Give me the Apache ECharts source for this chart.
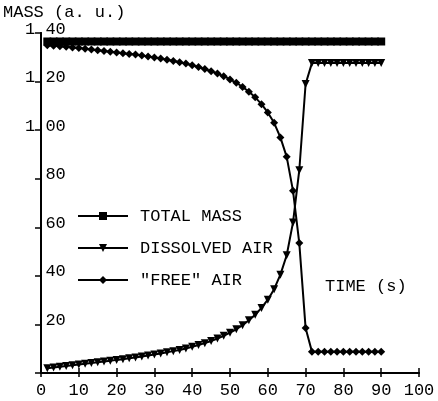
<!DOCTYPE html>
<html>
<head>
<meta charset="utf-8">
<script src="https://cdn.jsdelivr.net/npm/echarts@6/dist/echarts.min.js"></script>
<style>
  html, body { margin: 0; padding: 0; background: #fff; }
  #chart { width: 438px; height: 401px; }
</style>
</head>
<body>
<div id="chart"></div>
<script>
// time (s) of each sample
const times = [1.67, 3.33, 5, 6.67, 8.33, 10, 11.67, 13.33, 15, 16.67, 18.33, 20,
  21.67, 23.33, 25, 26.67, 28.33, 30, 31.67, 33.33, 35, 36.67, 38.33, 40,
  41.67, 43.33, 45, 46.67, 48.33, 50, 51.67, 53.33, 55, 56.67, 58.33, 60,
  61.67, 63.33, 65, 66.67, 68.33, 70, 71.67, 73.33, 75, 76.67, 78.33, 80,
  81.67, 83.33, 85, 86.67, 88.33, 90];

const totalMass = [1.365, 1.365, 1.365, 1.365, 1.365, 1.365, 1.365, 1.365, 1.365, 1.365, 1.365, 1.365,
  1.365, 1.365, 1.365, 1.365, 1.365, 1.365, 1.365, 1.365, 1.365, 1.365, 1.365, 1.365,
  1.365, 1.365, 1.365, 1.365, 1.365, 1.365, 1.365, 1.365, 1.365, 1.365, 1.365, 1.365,
  1.365, 1.365, 1.365, 1.365, 1.365, 1.365, 1.365, 1.365, 1.365, 1.365, 1.365, 1.365,
  1.365, 1.365, 1.365, 1.365, 1.365, 1.365];

const dissolvedAir = [0.020, 0.023, 0.026, 0.029, 0.032, 0.035, 0.038, 0.041, 0.044, 0.047, 0.050, 0.054,
  0.057, 0.061, 0.064, 0.068, 0.072, 0.076, 0.080, 0.085, 0.090, 0.095, 0.101, 0.108,
  0.115, 0.123, 0.132, 0.142, 0.153, 0.166, 0.180, 0.197, 0.217, 0.240, 0.268, 0.302,
  0.345, 0.405, 0.485, 0.620, 0.835, 1.190, 1.276, 1.276, 1.276, 1.276, 1.276, 1.276,
  1.276, 1.276, 1.276, 1.276, 1.276, 1.276];

const freeAir = [1.350, 1.347, 1.345, 1.343, 1.340, 1.338, 1.335, 1.332, 1.329, 1.326, 1.323, 1.320,
  1.317, 1.314, 1.311, 1.307, 1.303, 1.299, 1.295, 1.290, 1.285, 1.280, 1.274, 1.267,
  1.260, 1.252, 1.243, 1.233, 1.222, 1.209, 1.195, 1.178, 1.158, 1.135, 1.107, 1.073,
  1.030, 0.970, 0.890, 0.750, 0.535, 0.185, 0.088, 0.088, 0.088, 0.088, 0.088, 0.088,
  0.088, 0.088, 0.088, 0.088, 0.088, 0.088];

const yTickLabels = ['', '  20', '  40', '  60', '  80', '1 00', '1 20', '1 40'];
const seriesNames = ['TOTAL MASS', 'DISSOLVED AIR', '"FREE" AIR'];

const FONT = '"Liberation Mono", "DejaVu Sans Mono", monospace';

function pairs(ys) {
    return times.map((t, i) => [t, ys[i]]);
}

const chart = echarts.init(document.getElementById('chart'), null, { renderer: 'canvas' });

const lineBase = {
    type: 'line',
    showAllSymbol: true,
    animation: false,
    lineStyle: { color: '#000', width: 2 },
    itemStyle: { color: '#000', borderWidth: 0 },
    emphasis: { disabled: true }
};

const option = {
    backgroundColor: '#fff',
    animation: false,
    grid: { left: 41, right: 19, top: 33, bottom: 28 },
    graphic: [
        { type: 'text', left: 3, top: 4,
          style: { text: 'MASS (a. u.)', font: '17px ' + FONT, fill: '#000' } },
        { type: 'text', left: 325, top: 278,
          style: { text: 'TIME (s)', font: '17px ' + FONT, fill: '#000' } }
    ],
    legend: {
        orient: 'vertical',
        left: 72,
        top: 202,
        itemWidth: 50,
        itemHeight: 10,
        itemGap: 14,
        data: seriesNames,
        textStyle: { fontFamily: FONT, fontSize: 17, color: '#000', lineHeight: 18, padding: [0, 0, 0, 7] }
    },
    xAxis: [{
        type: 'value', min: 0, max: 100, interval: 10,
        axisLine: { lineStyle: { color: '#000', width: 2 } },
        axisTick: { inside: true, length: 5, lineStyle: { color: '#000', width: 1.5 } },
        axisLabel: { color: '#000', fontFamily: FONT, fontSize: 17, margin: 9 },
        splitLine: { show: false }
    }, {
        type: 'value', position: 'top', min: 0, max: 100, interval: 10,
        axisLine: { lineStyle: { color: '#000', width: 2 } },
        axisTick: { inside: true, length: 4, lineStyle: { color: '#000', width: 1.5 } },
        axisLabel: { show: false },
        splitLine: { show: false }
    }],
    yAxis: [{
        type: 'value', min: 0, max: 1.4, interval: 0.2,
        axisLine: { lineStyle: { color: '#000', width: 2 } },
        axisTick: { length: 3, lineStyle: { color: '#000', width: 1.5 } },
        axisLabel: {
            color: '#000', fontFamily: FONT, fontSize: 17, margin: 16, align: 'left',
            verticalAlign: 'bottom', lineHeight: 8,
            formatter: (v) => yTickLabels[Math.round(v / 0.2)]
        },
        splitLine: { show: false }
    }, {
        type: 'value', position: 'right', min: 0, max: 1.4, interval: 0.2,
        axisLine: { lineStyle: { color: '#000', width: 2 } },
        axisTick: { inside: true, length: 6, lineStyle: { color: '#000', width: 1.5 } },
        axisLabel: { show: false },
        splitLine: { show: false }
    }],
    series: [
        Object.assign({}, lineBase, {
            name: seriesNames[0], symbol: 'rect', symbolSize: 8, data: pairs(totalMass)
        }),
        Object.assign({}, lineBase, {
            name: seriesNames[1], symbol: 'triangle', symbolRotate: 180, symbolSize: 8, data: pairs(dissolvedAir)
        }),
        Object.assign({}, lineBase, {
            name: seriesNames[2], symbol: 'diamond', symbolSize: 8, data: pairs(freeAir)
        })
    ]
};

chart.setOption(option);
</script>
</body>
</html>
